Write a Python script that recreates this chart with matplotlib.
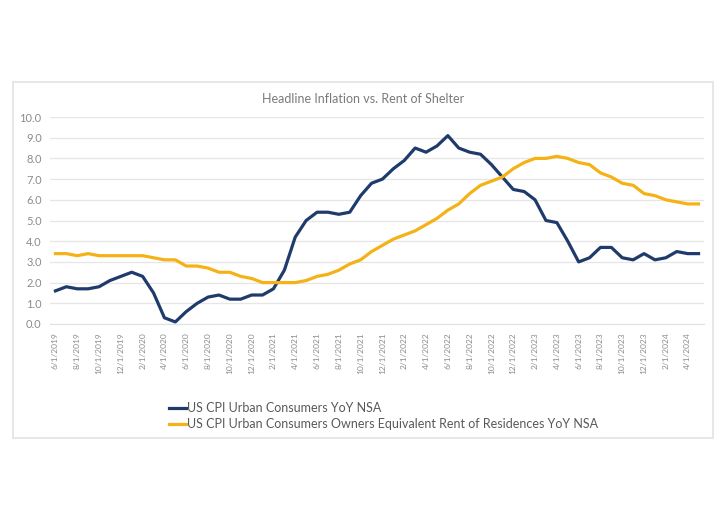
import numpy as np
import matplotlib.pyplot as plt
from matplotlib.patches import Rectangle

plt.rcParams['font.family'] = ['Lato', 'DejaVu Sans']

# monthly dates 6/1/2019 .. 5/1/2024
months = []
y, m = 2019, 6
while (y, m) <= (2024, 5):
    months.append('%d/1/%d' % (m, y))
    m += 1
    if m > 12:
        m = 1
        y += 1

# US CPI Urban Consumers YoY NSA
cpi = [1.6, 1.8, 1.7, 1.7, 1.8, 2.1, 2.3,
       2.5, 2.3, 1.5, 0.3, 0.1, 0.6, 1.0, 1.3, 1.4, 1.2, 1.2, 1.4,
       1.4, 1.7, 2.6, 4.2, 5.0, 5.4, 5.4, 5.3, 5.4, 6.2, 6.8, 7.0,
       7.5, 7.9, 8.5, 8.3, 8.6, 9.1, 8.5, 8.3, 8.2, 7.7, 7.1, 6.5,
       6.4, 6.0, 5.0, 4.9, 4.0, 3.0, 3.2, 3.7, 3.7, 3.2, 3.1, 3.4,
       3.1, 3.2, 3.5, 3.4, 3.4]

# Owners Equivalent Rent of Residences YoY NSA
oer = [3.4, 3.4, 3.3, 3.4, 3.3, 3.3, 3.3,
       3.3, 3.3, 3.2, 3.1, 3.1, 2.8, 2.8, 2.7, 2.5, 2.5, 2.3, 2.2,
       2.0, 2.0, 2.0, 2.0, 2.1, 2.3, 2.4, 2.6, 2.9, 3.1, 3.5, 3.8,
       4.1, 4.3, 4.5, 4.8, 5.1, 5.5, 5.8, 6.3, 6.7, 6.9, 7.1, 7.5,
       7.8, 8.0, 8.0, 8.1, 8.0, 7.8, 7.7, 7.3, 7.1, 6.8, 6.7, 6.3,
       6.2, 6.0, 5.9, 5.8, 5.8]

navy = '#1f3b6b'
gold = '#f5b217'
gray = '#8c8c8c'

fig = plt.figure(figsize=(7.27, 5.2), dpi=100)
fig.patches.append(Rectangle((13 / 727, 1 - 438 / 520), 700 / 727, 356 / 520,
                             transform=fig.transFigure, fill=False,
                             edgecolor='#e3e3e3', linewidth=1.2))

ax = fig.add_axes([50 / 727, 1 - 324 / 520, 654 / 727, 207 / 520])
x = np.arange(len(months))
l1, = ax.plot(x, cpi, color=navy, linewidth=2.3, solid_joinstyle='round')
l2, = ax.plot(x, oer, color=gold, linewidth=2.3, solid_joinstyle='round')

ax.set_xlim(-0.5, len(months) - 0.5)
ax.set_ylim(0, 10)
ax.set_yticks(np.arange(0, 10.1, 1))
ax.set_yticklabels(['%.1f' % v for v in np.arange(0, 10.1, 1)])
ax.set_xticks(x[::2])
ax.set_xticklabels(months[::2], rotation=90)
ax.tick_params(axis='x', labelsize=6, colors=gray, length=0, pad=6)
ax.tick_params(axis='y', labelsize=8, colors=gray, length=0, pad=6)
ax.grid(axis='y', color='#e6e6e6', linewidth=0.9)
ax.set_axisbelow(True)
for s in ['top', 'right', 'left']:
    ax.spines[s].set_visible(False)
ax.spines['bottom'].set_color('#e0e0e0')

fig.text(363 / 727, 1 - 99 / 520, 'Headline Inflation vs. Rent of Shelter',
         ha='center', va='center', fontsize=9, color='#7a7a7a')

fig.legend([l1, l2], ['US CPI Urban Consumers YoY NSA',
                      'US CPI Urban Consumers Owners Equivalent Rent of Residences YoY NSA'],
           loc='upper left', bbox_to_anchor=(163 / 727, 1 - 396 / 520),
           frameon=False, fontsize=9, labelcolor='#595959',
           handlelength=1.3, handletextpad=0.1, borderpad=0, labelspacing=0.3)

fig.savefig('out.png', dpi=100)
